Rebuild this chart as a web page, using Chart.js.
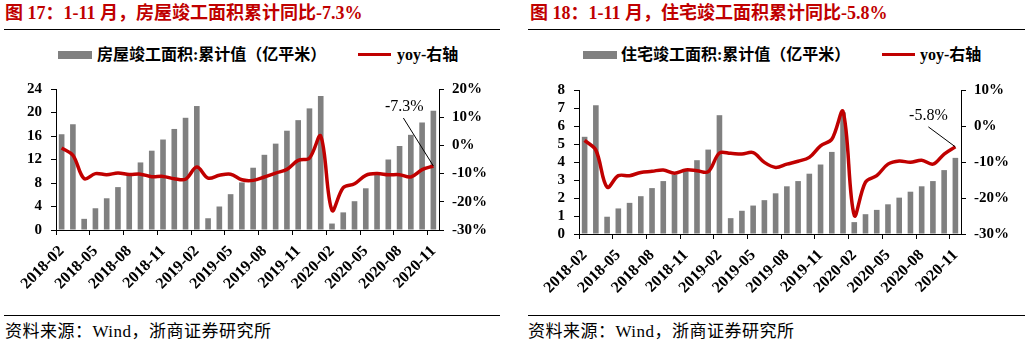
<!DOCTYPE html>
<html>
<head>
<meta charset="utf-8">
<script src="https://cdn.jsdelivr.net/npm/chart.js@4/dist/chart.umd.min.js"></script>
<style>
  body { margin: 0; width: 1031px; height: 347px; background: #fff; position: relative; overflow: hidden;
         font-family: 'Liberation Serif', 'Noto Sans CJK SC', serif; }
  .abs { position: absolute; white-space: nowrap; }
  .title { font-size: 18px; font-weight: bold; color: #C00000; line-height: 20px; }
  .rule { position: absolute; height: 1px; background: #000; }
  .leg { font-size: 16px; font-weight: bold; color: #000; line-height: 18px; }
  .box { position: absolute; width: 34px; height: 8px; background: #808080; }
  .redline { position: absolute; width: 33px; height: 3px; background: #C00000; }
  .src { font-size: 17px; letter-spacing: 0.5px; color: #000; line-height: 18px; }
  canvas { position: absolute; top: 0; }
</style>
</head>
<body>

<div class="abs title" style="left:5px;top:3px;">图 17：1-11 月，房屋竣工面积累计同比-7.3%</div>
<div class="rule" style="left:4px;top:29px;width:496px;"></div>
<div class="box" style="left:58px;top:51px;"></div>
<div class="abs leg" style="left:97px;top:46px;">房屋竣工面积:累计值（亿平米）</div>
<div class="redline" style="left:358px;top:53px;"></div>
<div class="abs leg" style="left:397px;top:46px;">yoy-右轴</div>
<canvas id="c1" width="515" height="310" style="left:0;"></canvas>
<div class="rule" style="left:4px;top:315px;width:496px;"></div>
<div class="abs src" style="left:5px;top:323px;">资料来源：Wind，浙商证券研究所</div>

<div class="abs title" style="left:530px;top:3px;">图 18：1-11 月，住宅竣工面积累计同比-5.8%</div>
<div class="rule" style="left:528px;top:29px;width:497px;"></div>
<div class="box" style="left:583px;top:51px;"></div>
<div class="abs leg" style="left:621px;top:46px;">住宅竣工面积:累计值（亿平米）</div>
<div class="redline" style="left:882px;top:53px;"></div>
<div class="abs leg" style="left:920px;top:46px;">yoy-右轴</div>
<canvas id="c2" width="516" height="310" style="left:515px;"></canvas>
<div class="rule" style="left:528px;top:315px;width:497px;"></div>
<div class="abs src" style="left:528px;top:323px;">资料来源：Wind，浙商证券研究所</div>

<script>
// months on the x axis
var months = ['2018-02','2018-03','2018-04','2018-05','2018-06','2018-07','2018-08','2018-09','2018-10','2018-11','2018-12',
  '2019-01','2019-02','2019-03','2019-04','2019-05','2019-06','2019-07','2019-08','2019-09','2019-10','2019-11','2019-12',
  '2020-01','2020-02','2020-03','2020-04','2020-05','2020-06','2020-07','2020-08','2020-09','2020-10','2020-11'];

// chart 17: 房屋竣工面积 (亿平米) and yoy (%)
var houseArea = [16.3, 18.0, 1.9, 3.7, 5.4, 7.3, 9.4, 11.5, 13.5, 15.4, 17.2, 19.1, 21.1, 2.0, 4.0, 6.1, 8.1, 10.6,
  12.8, 14.7, 16.9, 18.7, 20.7, 22.8, 1.1, 3.0, 4.9, 7.1, 9.5, 12.0, 14.3, 16.2, 18.3, 20.3];
var houseYoy = [-0.9, -3.5, -11.8, -10.0, -10.4, -9.8, -10.3, -10.2, -11.1, -11.0, -11.8, -12.0, -7.7, -11.6, -10.6,
  -10.2, -12.2, -12.4, -11.2, -9.8, -8.5, -5.3, -4.5, 3.3, -23.0, -15.0, -13.6, -10.6, -10.0, -10.4, -10.4, -11.2, -8.6, -7.3];

// chart 18: 住宅竣工面积 (亿平米) and yoy (%)
var resArea = [5.4, 7.15, 0.96, 1.42, 1.73, 2.1, 2.55, 2.94, 3.3, 3.5, 4.1, 4.69, 6.6, 0.88, 1.29, 1.58, 1.88, 2.26,
  2.65, 2.94, 3.35, 3.86, 4.56, 6.76, 0.66, 1.1, 1.34, 1.65, 2.02, 2.35, 2.65, 2.94, 3.55, 4.23];
var resYoy = [-4.0, -6.7, -17.0, -13.8, -13.8, -12.9, -12.6, -12.2, -13.1, -12.2, -12.4, -12.7, -7.5, -7.6, -7.8,
  -7.4, -10.1, -11.5, -10.6, -9.8, -8.7, -5.5, -3.7, 4.0, -24.8, -15.6, -13.8, -10.6, -9.7, -10.1, -9.5, -10.6, -7.8, -5.8];

Chart.defaults.font.family = "'Liberation Serif', 'Noto Sans CJK SC', serif";
Chart.defaults.font.weight = 'bold';
Chart.defaults.font.size = 15;
Chart.defaults.color = '#000';

// label + leader line at the last point of the yoy line
var lastLabel = {
  id: 'lastLabel',
  afterDatasetsDraw: function (chart, args, opts) {
    var meta = chart.getDatasetMeta(1);
    var pt = meta.data[meta.data.length - 1];
    var ctx = chart.ctx;
    ctx.save();
    ctx.strokeStyle = '#000';
    ctx.lineWidth = 1;
    ctx.beginPath();
    ctx.moveTo(pt.x + opts.lx, pt.y + opts.ly);
    ctx.lineTo(pt.x, pt.y);
    ctx.stroke();
    ctx.font = "16px 'Liberation Serif'";
    ctx.fillStyle = '#000';
    ctx.textAlign = 'center';
    ctx.textBaseline = 'middle';
    ctx.fillText(opts.text, pt.x + opts.tx, pt.y + opts.ty);
    ctx.restore();
  }
};

function makeChart(id, bars, yoy, leftMax, leftStep, rightMin, rightMax, box, note) {
  new Chart(document.getElementById(id), {
    type: 'bar',
    data: {
      labels: months,
      datasets: [{
        type: 'bar',
        data: bars,
        backgroundColor: '#808080',
        categoryPercentage: 1,
        barPercentage: 0.5,
        yAxisID: 'y',
        order: 2
      }, {
        type: 'line',
        data: yoy,
        borderColor: '#C00000',
        borderWidth: 3.5,
        pointRadius: 0,
        tension: 0.35,
        yAxisID: 'y1',
        order: 1
      }]
    },
    plugins: [lastLabel],
    options: {
      responsive: false,
      animation: false,
      layout: { padding: { top: box.top, left: 0, right: 0, bottom: 0 } },
      plugins: {
        legend: { display: false },
        tooltip: { enabled: false },
        lastLabel: note
      },
      scales: {
        x: {
          offset: true,
          afterFit: function (s) { s.height = box.xh; },
          border: { color: '#000', width: 1 },
          grid: {
            offset: true,
            drawOnChartArea: false,
            tickLength: 5,
            color: function (c) { return c.index % 3 === 0 ? '#000' : 'rgba(0,0,0,0)'; }
          },
          ticks: {
            autoSkip: false,
            maxRotation: 45,
            minRotation: 45,
            padding: 7,
            font: { size: 16 },
            callback: function (v, i) { return i % 3 === 0 ? months[i] : ''; }
          }
        },
        y: {
          position: 'left',
          min: 0,
          max: leftMax,
          afterFit: function (s) { s.width = box.left; },
          border: { color: '#000', width: 1 },
          grid: { drawOnChartArea: false, tickLength: 5, color: '#000' },
          ticks: { stepSize: leftStep, autoSkip: false, padding: 9 }
        },
        y1: {
          position: 'right',
          min: rightMin,
          max: rightMax,
          afterFit: function (s) { s.width = box.right; },
          border: { color: '#000', width: 1 },
          grid: { drawOnChartArea: false, tickLength: 5, color: '#000' },
          ticks: { stepSize: 10, autoSkip: false, padding: 8, callback: function (v) { return v + '%'; } }
        }
      }
    }
  });
}

makeChart('c1', houseArea, houseYoy, 24, 4, -30, 20,
  { top: 89, xh: 80, left: 56, right: 76 },
  { text: '-7.3%', lx: -30, ly: -48, tx: -29, ty: -59 });

makeChart('c2', resArea, resYoy, 8, 1, -30, 10,
  { top: 90, xh: 76, left: 64, right: 70 },
  { text: '-5.8%', lx: -27, ly: -20, tx: -27, ty: -31 });
</script>
</body>
</html>
